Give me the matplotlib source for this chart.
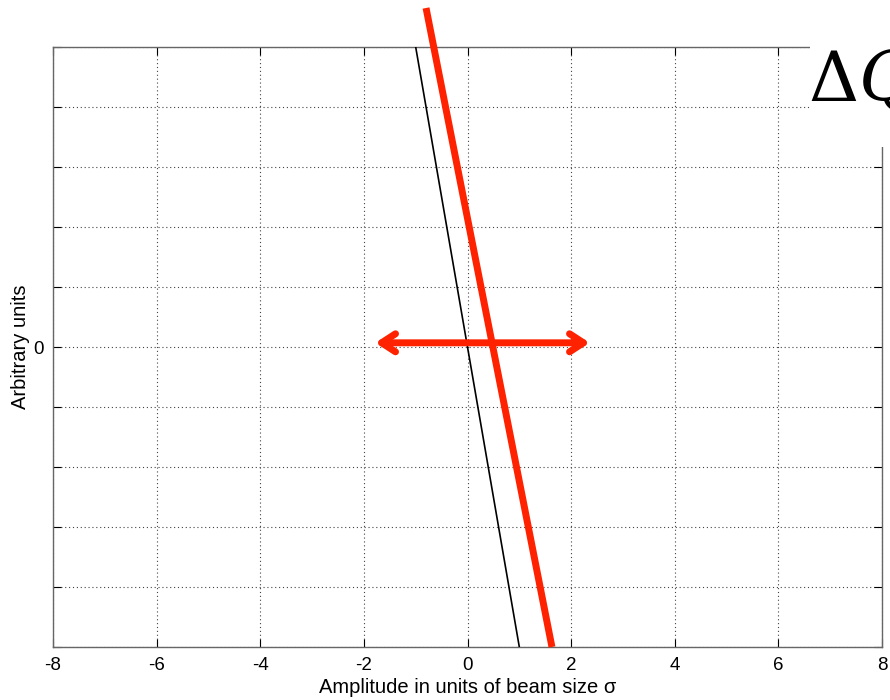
import matplotlib
matplotlib.use("Agg")
import matplotlib.pyplot as plt
from matplotlib.patches import Rectangle

plt.rcParams['font.family'] = ['Liberation Sans', 'DejaVu Sans']
plt.rcParams['mathtext.fontset'] = 'dejavuserif'

# data
x_ticks = [-8, -6, -4, -2, 0, 2, 4, 6, 8]
y_ticks = [-5, -4, -3, -2, -1, 0, 1, 2, 3, 4, 5]
y_tick_labels = ['', '', '', '', '', '0', '', '', '', '', '']
black_x = [-1.0, 1.0]
black_y = [5.0, -5.0]
red_x = [-0.80, 1.63]
red_y = [5.65, -5.0]
arrow_x = [-1.78, 2.36]
arrow_y = [0.07, 0.07]

W, H = 890, 700
fig = plt.figure(figsize=(W / 100, H / 100), dpi=100)
L, R, T, B = 53, 882, 47, 647
ax = fig.add_axes([L / W, 1 - B / H, (R - L) / W, (B - T) / H])
ax.set_xlim(-8, 8)
ax.set_ylim(-5, 5)
ax.set_xticks(x_ticks)
ax.set_xticklabels([str(v) for v in x_ticks])
ax.set_yticks(y_ticks)
ax.set_yticklabels(y_tick_labels)
ax.tick_params(direction='in', top=True, right=True, length=6, width=0.8,
               labelsize=13.5, colors='black', pad=7)
ax.grid(True, linestyle=(0, (1, 2.5)), color='#444444', linewidth=0.8)
for s in ax.spines.values():
    s.set_color('#666666')
    s.set_linewidth(1.0)

ax.plot(black_x, black_y, color='black', lw=1.2, zorder=3)
ax.plot(red_x, red_y, color='#FF2200', lw=5, clip_on=False, zorder=4,
        solid_capstyle='butt')
ax.annotate('', xy=(arrow_x[0], arrow_y[0]), xytext=(arrow_x[1], arrow_y[1]),
            arrowprops=dict(arrowstyle='<->,head_length=1.0,head_width=0.65',
                            color='#FF2200', lw=5, shrinkA=0, shrinkB=0),
            zorder=5)

ax.set_xlabel('Amplitude in units of beam size σ', fontsize=14.5, labelpad=3)
ax.set_ylabel('Arbitrary units', fontsize=14.5, labelpad=2)

# white overlay box with ΔQ in the top-right corner
fig.patches.append(Rectangle((810 / W, 1 - 147 / H), 80 / W, 147 / H,
                             transform=fig.transFigure, facecolor='white',
                             edgecolor='none', zorder=10))
fig.text(808 / W, 1 - 101 / H, r'$\Delta Q$', fontsize=50,
         ha='left', va='baseline', zorder=11)

fig.savefig('out.png', dpi=100, facecolor='white')
